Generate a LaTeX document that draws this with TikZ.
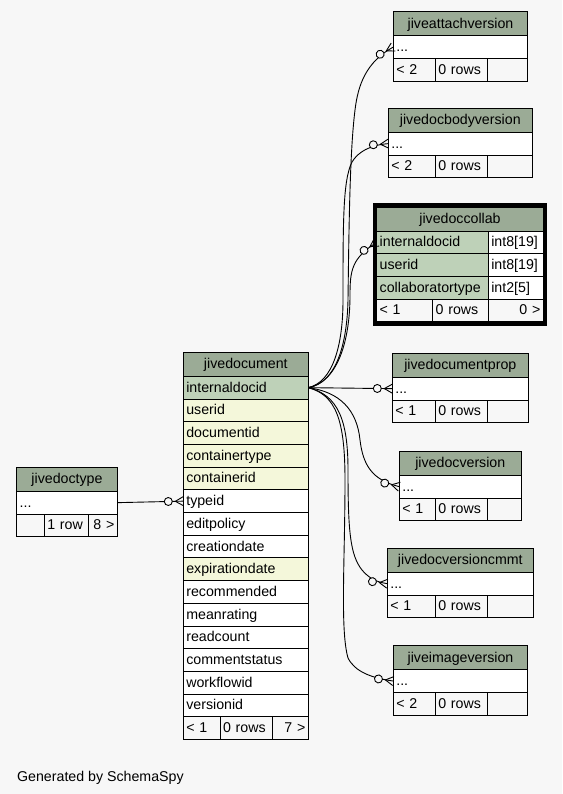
\documentclass[tikz,border=0pt]{standalone}
\usepackage{fontspec}
\setmainfont{Liberation Sans}

\definecolor{bgcol}{HTML}{F7F7F7}
\definecolor{hdrcol}{HTML}{9BAB96}
\definecolor{keycol}{HTML}{BED1B8}
\definecolor{idxcol}{HTML}{F4F7DA}

% circle and crow's foot at the child end
\pgfdeclarearrow{
  name = crowodot,
  setup code = {
    \pgfarrowssettipend{0pt}
    \pgfarrowssetlineend{0pt}
    \pgfarrowssetbackend{-19pt}
    \pgfarrowssetvisualbackend{-19pt}
    \pgfarrowshullpoint{0pt}{5pt}
    \pgfarrowshullpoint{0pt}{-5pt}
    \pgfarrowshullpoint{-19pt}{4pt}
    \pgfarrowshullpoint{-19pt}{-4pt}
  },
  drawing code = {
    \pgfsetdash{}{0pt}
    \pgfpathmoveto{\pgfpoint{0pt}{4.5pt}}
    \pgfpathlineto{\pgfpoint{-8pt}{0pt}}
    \pgfpathlineto{\pgfpoint{0pt}{-4.5pt}}
    \pgfusepathqstroke
    \pgfpathcircle{\pgfpoint{-15pt}{0pt}}{4pt}
    \pgfsetfillcolor{bgcol}
    \pgfusepathqfillstroke
  },
  defaults = {}
}

\tikzset{
  tbl/.style={draw, inner xsep=3pt, inner ysep=0pt, outer sep=0pt,
    anchor=north west, text height=11pt, text depth=2pt, align=left,
    font=\fontsize{14.2pt}{17pt}\selectfont},
  hdr/.style={tbl, fill=hdrcol, minimum height=24pt, align=center},
  col/.style={tbl, fill=white, minimum height=22.7pt},
  pkcol/.style={col, fill=keycol},
  ixcol/.style={col, fill=idxcol},
  foot/.style={tbl, fill=bgcol, minimum height=22.7pt},
  fk/.style={-crowodot}
}

\begin{document}
\begin{tikzpicture}[x=1pt, y=-1pt, line width=0.9pt]
\fill [bgcol] (0,0) rectangle (562,794);

% jiveattachversion
\node [hdr, text width=128.4pt] (attach) at (393.3,11.7) {jiveattachversion};
\node [col, text width=128.4pt] (attach-row) at (attach.south west) {...};
\node [foot, text width=36pt] (attach-f1) at (attach-row.south west) {< 2};
\node [foot, text width=46pt] (attach-f2) at (attach-f1.north east) {0 rows};
\node [foot, text width=34.4pt] (attach-f3) at (attach-f2.north east) {};

% jivedocbodyversion
\node [hdr, text width=138pt] (body) at (388.3,108.3) {jivedocbodyversion};
\node [col, text width=138pt] (body-row) at (body.south west) {...};
\node [foot, text width=41pt] (body-f1) at (body-row.south west) {< 2};
\node [foot, text width=46pt] (body-f2) at (body-f1.north east) {0 rows};
\node [foot, text width=39pt] (body-f3) at (body-f2.north east) {};

% jivedoccollab
\node [hdr, text width=160.6pt] (collab) at (376.7,207) {jivedoccollab};
\node [pkcol, text width=105.6pt] (collab-internaldocid) at (collab.south west) {internaldocid};
\node [col, text width=49pt] at (collab-internaldocid.north east) {int8[19]};
\node [pkcol, text width=105.6pt] (collab-userid) at (collab-internaldocid.south west) {userid};
\node [col, text width=49pt] at (collab-userid.north east) {int8[19]};
\node [pkcol, text width=105.6pt] (collab-type) at (collab-userid.south west) {collaboratortype};
\node [col, text width=49pt] at (collab-type.north east) {int2[5]};
\node [foot, text width=50pt] (collab-f1) at (collab-type.south west) {< 1};
\node [foot, text width=49.6pt] (collab-f2) at (collab-f1.north east) {0 rows};
\node [foot, text width=49pt, align=right] (collab-f3) at (collab-f2.north east) {0 >};

% jivedocument
\node [hdr, text width=119pt] (doc-hdr) at (183.3,352.3) {jivedocument};
\foreach \c/\s [remember=\c as \p (initially hdr)] in {internaldocid/pkcol,
    userid/ixcol, documentid/ixcol, containertype/ixcol, containerid/ixcol,
    typeid/col, editpolicy/col, creationdate/col, expirationdate/ixcol,
    recommended/col, meanrating/col, readcount/col, commentstatus/col,
    workflowid/col, versionid/col}
  \node [\s, text width=119pt] (doc-\c) at (doc-\p.south west) {\c};
\node [foot, text width=30.7pt] (doc-f1) at (doc-versionid.south west) {< 1};
\node [foot, text width=46.7pt] (doc-f2) at (doc-f1.north east) {0 rows};
\node [foot, text width=29.6pt, align=right] (doc-f3) at (doc-f2.north east) {7 >};

% jivedoctype
\node [hdr, text width=94.6pt] (type) at (16.7,467.3) {jivedoctype};
\node [col, text width=94.6pt] (type-row) at (type.south west) {...};
\node [foot, text width=21.6pt] (type-f1) at (type-row.south west) {};
\node [foot, text width=38pt] (type-f2) at (type-f1.north east) {1 row};
\node [foot, text width=23pt, align=right] (type-f3) at (type-f2.north east) {8 >};

% jivedocumentprop
\node [hdr, text width=130pt] (prop) at (392.3,353.3) {jivedocumentprop};
\node [col, text width=130pt] (prop-row) at (prop.south west) {...};
\node [foot, text width=37pt] (prop-f1) at (prop-row.south west) {< 1};
\node [foot, text width=46pt] (prop-f2) at (prop-f1.north east) {0 rows};
\node [foot, text width=35pt] (prop-f3) at (prop-f2.north east) {};

% jivedocversion
\node [hdr, text width=116pt] (ver) at (399.3,451.3) {jivedocversion};
\node [col, text width=116pt] (ver-row) at (ver.south west) {...};
\node [foot, text width=30pt] (ver-f1) at (ver-row.south west) {< 1};
\node [foot, text width=46pt] (ver-f2) at (ver-f1.north east) {0 rows};
\node [foot, text width=28pt] (ver-f3) at (ver-f2.north east) {};

% jivedocversioncmmt
\node [hdr, text width=140pt] (cmmt) at (387.3,548.3) {jivedocversioncmmt};
\node [col, text width=140pt] (cmmt-row) at (cmmt.south west) {...};
\node [foot, text width=42pt] (cmmt-f1) at (cmmt-row.south west) {< 1};
\node [foot, text width=46pt] (cmmt-f2) at (cmmt-f1.north east) {0 rows};
\node [foot, text width=40pt] (cmmt-f3) at (cmmt-f2.north east) {};

% jiveimageversion
\node [hdr, text width=128.4pt] (img) at (393.3,645.7) {jiveimageversion};
\node [col, text width=128.4pt] (img-row) at (img.south west) {...};
\node [foot, text width=36pt] (img-f1) at (img-row.south west) {< 2};
\node [foot, text width=46pt] (img-f2) at (img-f1.north east) {0 rows};
\node [foot, text width=34.4pt] (img-f3) at (img-f2.north east) {};

% relations
\draw [fk] (type-row.east) -- (doc-typeid.west);
\draw [fk] (doc-internaldocid.east) -- (prop-row.west);
\draw [fk] (doc-internaldocid.east) .. controls (336,383) and (347,345) .. (348,300)
  .. controls (349,220) and (350,150) .. (355,110)
  .. controls (358,85) and (366,62) .. (attach-row.west);
\draw [fk] (doc-internaldocid.east) .. controls (333,382) and (343,345) .. (343,300)
  .. controls (343,220) and (343,180) .. (352,162)
  .. controls (358,152) and (370,145) .. (body-row.west);
\draw [fk] (doc-internaldocid.east) .. controls (338,382) and (350,340) .. (350,295)
  .. controls (350,270) and (352,258) .. (collab-internaldocid.west);
\draw [fk] (doc-internaldocid.east) .. controls (340,392) and (357,410) .. (360,440)
  .. controls (363,465) and (372,480) .. (ver-row.west);
\draw [fk] (doc-internaldocid.east) .. controls (338,395) and (348,420) .. (348,470)
  .. controls (348,530) and (350,555) .. (362,570)
  .. controls (368,577) and (375,582) .. (cmmt-row.west);
\draw [fk] (doc-internaldocid.east) .. controls (336,395) and (345,420) .. (345,480)
  .. controls (345,560) and (340,630) .. (348,658)
  .. controls (355,672) and (372,678) .. (img-row.west);

\draw [line width=4pt] ([shift={(-2pt,2pt)}]collab.north west)
  rectangle ([shift={(2pt,-2pt)}]collab-f3.south east);

\node [anchor=base west, inner sep=0pt, font=\fontsize{14.2pt}{17pt}\selectfont] (credit)
  at (16.7,781.7) {Generated by SchemaSpy};
\end{tikzpicture}
\end{document}
